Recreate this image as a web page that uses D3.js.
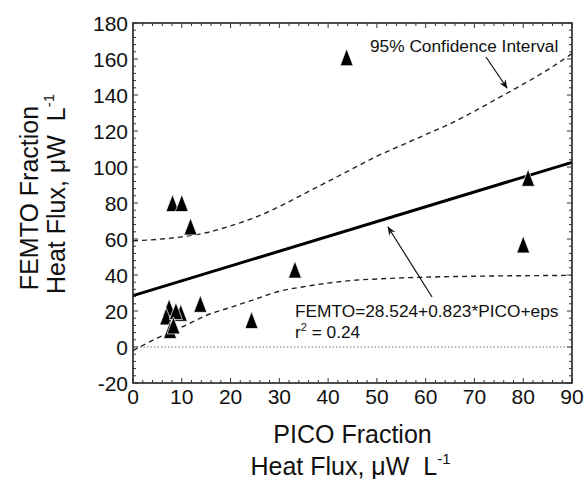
<!DOCTYPE html>
<html><head><meta charset="utf-8">
<script src="https://cdn.jsdelivr.net/npm/d3@7"></script>
<style>body{margin:0;background:#fff}svg{display:block}text{font-family:"Liberation Sans",Arial,sans-serif;fill:#111}</style>
</head><body>
<script>
// Data
const pico  = [8.1, 10.0, 11.8, 13.8, 24.3, 33.2, 43.8, 80.0, 81.0, 7.4, 6.8, 9.8, 8.8, 7.6, 8.3];
const femto = [80, 80, 67, 24, 15, 43, 161, 57, 94, 22, 17, 19, 20, 9.5, 12];
const regX = [0, 90];
const regY = [28.524, 102.6];
const ciX     = [0, 5, 10, 15, 20, 25, 30, 35, 40, 45, 50, 55, 60, 65, 70, 75, 80, 85, 90];
const ciUpper = [59, 59.8, 61.2, 63.5, 67.3, 72, 78, 85, 92, 99, 106, 112, 118, 124, 131, 138.5, 146, 154, 163];
const ciLower = [-2, 5, 11, 17.5, 22, 26.5, 31, 33.5, 35.5, 37, 37.8, 38.4, 38.8, 39.1, 39.3, 39.5, 39.6, 39.7, 39.8];
const xTicks = [0, 10, 20, 30, 40, 50, 60, 70, 80, 90];
const yTicks = [-20, 0, 20, 40, 60, 80, 100, 120, 140, 160, 180];

const W = 585, H = 479;
const m = {l: 133, t: 23, r: 13, b: 96};
const svg = d3.select("body").append("svg").attr("width", W).attr("height", H);
const x = d3.scaleLinear().domain([0, 90]).range([m.l, W - m.r]);
const y = d3.scaleLinear().domain([-20, 180]).range([H - m.b, m.t]);
const x0 = x(0), x1 = x(90), y0 = y(-20), y1 = y(180);

// defs arrow
svg.append("defs").append("marker").attr("id", "arr").attr("viewBox", "0 0 10 10")
  .attr("refX", 9).attr("refY", 5).attr("markerWidth", 9).attr("markerHeight", 9)
  .attr("markerUnits", "userSpaceOnUse").attr("orient", "auto")
  .append("path").attr("d", "M0,1 L10,5 L0,9 L3,5 Z").attr("fill", "#111");

// zero dotted line
svg.append("line").attr("x1", x0).attr("x2", x1).attr("y1", y(0)).attr("y2", y(0))
  .attr("stroke", "#777").attr("stroke-width", 1).attr("stroke-dasharray", "1.5,2");

// CI curves
const line = d3.line().curve(d3.curveMonotoneX);
svg.append("path").attr("d", line(ciX.map((v, i) => [x(v), y(ciUpper[i])])))
  .attr("fill", "none").attr("stroke", "#222").attr("stroke-width", 1.4).attr("stroke-dasharray", "5,4");
svg.append("path").attr("d", line(ciX.map((v, i) => [x(v), y(ciLower[i])])))
  .attr("fill", "none").attr("stroke", "#222").attr("stroke-width", 1.4).attr("stroke-dasharray", "5,4");

// regression line
svg.append("line").attr("x1", x(regX[0])).attr("y1", y(regY[0])).attr("x2", x(regX[1])).attr("y2", y(regY[1]))
  .attr("stroke", "#000").attr("stroke-width", 3);

// triangles
const tw = 13, th = 17;
svg.append("g").selectAll("path").data(pico.map((p, i) => [p, femto[i]])).join("path")
  .attr("d", `M0,${-th/2} L${tw/2},${th/2} L${-tw/2},${th/2} Z`)
  .attr("transform", d => `translate(${x(d[0])},${y(d[1])})`)
  .attr("fill", "#000").attr("stroke", "#fff").attr("stroke-width", 0.7);

// frame
svg.append("rect").attr("x", x0).attr("y", y1).attr("width", x1 - x0).attr("height", y0 - y1)
  .attr("fill", "none").attr("stroke", "#222").attr("stroke-width", 1.6);

// ticks (inward, all sides)
const tg = svg.append("g").attr("stroke", "#333").attr("stroke-width", 1);
d3.range(0, 90.01, 2).forEach(v => {
  const major = Math.abs(v % 10) < 1e-6, L = major ? 5 : 3;
  tg.append("line").attr("x1", x(v)).attr("x2", x(v)).attr("y1", y0).attr("y2", y0 - L);
  tg.append("line").attr("x1", x(v)).attr("x2", x(v)).attr("y1", y1).attr("y2", y1 + L);
});
d3.range(-20, 180.01, 4).forEach(v => {
  const major = Math.abs((v + 20) % 20) < 1e-6, L = major ? 5 : 3;
  tg.append("line").attr("y1", y(v)).attr("y2", y(v)).attr("x1", x0).attr("x2", x0 + L);
  tg.append("line").attr("y1", y(v)).attr("y2", y(v)).attr("x1", x1).attr("x2", x1 - L);
});

// tick labels
svg.append("g").selectAll("text").data(xTicks).join("text")
  .attr("x", d => x(d)).attr("y", y0 + 21).attr("text-anchor", "middle")
  .attr("font-size", 21).text(d => d);
svg.append("g").selectAll("text").data(yTicks).join("text")
  .attr("x", x0 - 5).attr("y", d => y(d) + 7.5).attr("text-anchor", "end")
  .attr("font-size", 21).text(d => d);

// axis titles
const cx = (x0 + x1) / 2;
svg.append("text").attr("x", cx).attr("y", 443).attr("text-anchor", "middle").attr("font-size", 25).text("PICO Fraction");
const xt2 = svg.append("text").attr("x", cx - 2).attr("y", 475).attr("text-anchor", "middle").attr("font-size", 25);
xt2.append("tspan").text("Heat Flux, \u03bcW\u00a0\u00a0L");
xt2.append("tspan").attr("font-size", 15).attr("dy", -11).text("-1");

const yc = (y0 + y1) / 2 - 5;
svg.append("text").attr("transform", `translate(38,${yc}) rotate(-90)`).attr("text-anchor", "middle")
  .attr("font-size", 25).text("FEMTO Fraction");
const yt2 = svg.append("text").attr("transform", `translate(65,${yc - 4}) rotate(-90)`).attr("text-anchor", "middle").attr("font-size", 25);
yt2.append("tspan").text("Heat Flux, \u03bcW\u00a0\u00a0L");
yt2.append("tspan").attr("font-size", 15).attr("dy", -11).text("-1");

// annotations
svg.append("text").attr("x", 370).attr("y", 52).attr("font-size", 17.3).text("95% Confidence Interval");
svg.append("line").attr("x1", 486).attr("y1", 57).attr("x2", 507).attr("y2", 88)
  .attr("stroke", "#111").attr("stroke-width", 1.2).attr("marker-end", "url(#arr)");

svg.append("text").attr("x", 295).attr("y", 317).attr("font-size", 17.3).text("FEMTO=28.524+0.823*PICO+eps");
const r2 = svg.append("text").attr("x", 295).attr("y", 338).attr("font-size", 17.3);
r2.append("tspan").text("r");
r2.append("tspan").attr("font-size", 11).attr("dy", -7).text("2");
r2.append("tspan").attr("dy", 7).text(" = 0.24");
svg.append("line").attr("x1", 432).attr("y1", 297).attr("x2", 388).attr("y2", 227)
  .attr("stroke", "#111").attr("stroke-width", 1.2).attr("marker-end", "url(#arr)");
</script>
</body></html>
